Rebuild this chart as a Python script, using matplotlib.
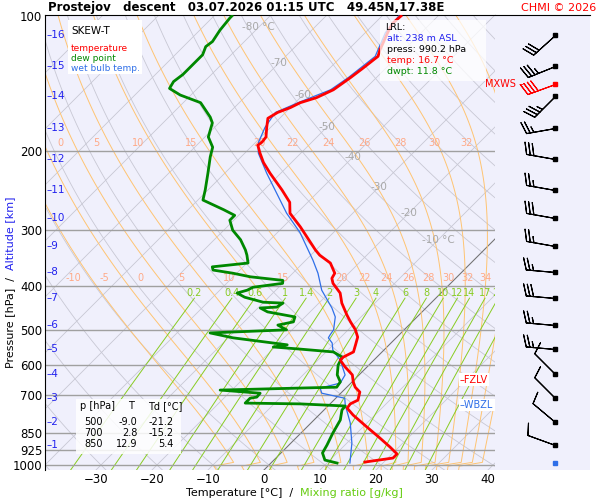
import numpy as np
import matplotlib
matplotlib.use('Agg')
import matplotlib.pyplot as plt
from matplotlib.transforms import blended_transform_factory

plt.rcParams['font.family'] = ['DejaVu Sans']

P_BOT = 1026.0
P_TOP = 99.5
SKEW = 34.82   # deg C of x shift per ln(p) unit (45 deg in pixels)

BG = '#f0f0fc'
RED = '#ff0000'
GREEN = '#008800'
BLUE = '#2f6fe8'

# sounding (p [hPa], value [deg C])
TEMP = [
    (985, 16.6), (965, 20.9), (945, 20.9), (912, 18.4), (871, 15.0), (823, 10.7),
    (774, 6.1), (747, 3.8), (731, 3.6), (717, 4.3), (688, 3.2), (671, 1.5),
    (653, 0.2), (630, -1.2), (605, -3.9), (584, -6.0), (575, -6.0), (560, -5.1),
    (540, -6.0), (519, -7.0), (500, -8.7), (480, -11.0), (464, -12.8), (436, -15.9),
    (414, -18.0), (394, -21.0), (384, -22.1), (374, -22.5), (355, -25.1), (341, -28.4),
    (332, -30.1), (295, -36.9), (275, -41.2), (260, -43.2), (244, -46.8), (224, -51.9),
    (212, -55.0), (202, -57.3), (194, -59.1), (191, -58.9), (186, -59.1), (177, -60.7),
    (169, -62.1), (164, -61.4), (160, -60.0), (156, -59.1), (152, -57.1), (146, -55.5),
    (137, -54.6), (131, -54.1), (123, -53.5), (119, -54.3), (109, -56.0), (104, -56.8),
    (100, -56.6),
]

DEWP = [
    (990, 11.8), (975, 9.1), (940, 7.4), (903, 6.8), (849, 5.7), (794, 4.7),
    (754, 3.2), (739, 3.1), (731, -5.3), (728, -15.3), (710, -15.3), (706, -14.3),
    (692, -14.4), (681, -22.1), (674, -8.2), (671, -1.8), (653, -2.1), (630, -3.9),
    (599, -5.5), (575, -6.2), (560, -8.7), (552, -15.1), (546, -20.3), (540, -18.2),
    (521, -29.1), (508, -34.1), (500, -21.0), (488, -23.4), (480, -21.2), (468, -21.8),
    (456, -27.6), (447, -29.6), (445, -26.8), (436, -26.4), (434, -30.1), (423, -34.3),
    (414, -36.4), (408, -35.1), (402, -34.6), (394, -30.0), (388, -30.5), (381, -36.9),
    (374, -40.7), (368, -44.8), (362, -45.5), (355, -39.8), (341, -41.4), (332, -42.6),
    (315, -45.3), (300, -48.4), (285, -50.7), (278, -50.7), (270, -53.7), (257, -59.1),
    (244, -60.5), (224, -63.0), (206, -65.5), (196, -66.8), (186, -69.4), (173, -71.2),
    (168, -72.6), (156, -76.9), (150, -81.9), (145, -85.0), (140, -85.5), (135, -85.1),
    (130, -85.1), (122, -85.1), (117, -86.0), (114, -85.7), (107.5, -86.4), (101, -86.8),
    (100, -86.8),
]

WETB = [
    (990, 14.1), (894, 10.9), (806, 7.0), (735, 2.9), (710, 1.6), (692, -3.4),
    (674, -4.6), (657, -1.9), (630, -2.5), (584, -6.0), (555, -9.1), (535, -10.5),
    (521, -12.1), (514, -12.3), (500, -12.6), (468, -14.6), (447, -16.8), (408, -21.8),
    (374, -25.5), (350, -28.7), (332, -31.4), (304, -35.9), (275, -41.8), (240, -48.9),
    (224, -52.5), (202, -57.6), (191, -59.5), (177, -61.0), (164, -61.8), (156, -59.5),
    (146, -56.0), (137, -55.0), (123, -54.0), (109, -56.4), (100, -57.0),
]

# altitude [km] -> pressure [hPa]; wind (dir [deg], speed [kt]) at each level
ALT_KM = {16: 110, 15: 129, 14: 151, 13: 178, 12: 208, 11: 244, 10: 282, 9: 325,
          8: 372, 7: 425, 6: 488, 5: 552, 4: 627, 3: 710, 2: 802, 1: 903}
WINDS = [
    (110, 228, 30), (129, 248, 35), (142, 250, 40), (151, 225, 35), (178, 260, 25),
    (208, 280, 30), (244, 280, 25), (282, 280, 30), (325, 280, 25), (372, 275, 25),
    (425, 275, 30), (488, 275, 25), (552, 275, 25), (627, 315, 10), (710, 315, 10),
    (802, 310, 10), (903, 290, 10), (990, 255, 2),
]
MXWS_P = 142
FZLV_P = 646
WBZL_P = 735

TABLE = [(500, -9.0, -21.2), (700, 2.8, -15.2), (850, 12.9, 5.4)]


def skew_x(t, p):
    return np.asarray(t) + SKEW * np.log(P_BOT / np.asarray(p))


def sat_vp(tc):
    return 6.112 * np.exp(17.67 * tc / (tc + 243.5))


def moist_adiabat(thw, pres):
    # integrate pseudo-adiabat from 1000 hPa up and down
    Rd, cp, Lv, eps = 287.04, 1005.7, 2.501e6, 0.622

    def dtdp(T, p):
        es = sat_vp(T - 273.15)
        rs = eps * es / (p - es)
        num = Rd * T + Lv * rs
        den = cp + Lv * Lv * rs * eps / (Rd * T * T)
        return num / (den * p)

    out = {}
    for direction in (pres[pres <= 1000][::-1], pres[pres >= 1000]):
        T = thw + 273.15
        pp = 1000.0
        for p in direction:
            steps = 4
            dp = (p - pp) / steps
            for _ in range(steps):
                k1 = dtdp(T, pp)
                k2 = dtdp(T + 0.5 * dp * k1, pp + 0.5 * dp)
                T = T + dp * k2
                pp += dp
            out[p] = T - 273.15
    return np.array([out[p] for p in pres])


fig = plt.figure(figsize=(6, 5), dpi=100)
ax = fig.add_axes([45 / 600, 30 / 500, 450 / 600, 455 / 500])
ax.set_facecolor(BG)
ax.set_yscale('log')
ax.set_ylim(P_BOT, P_TOP)
ax.set_xlim(-39.1, 41.25)

pres = np.geomspace(P_BOT, P_TOP, 120)

# isotherms
for t in range(-160, 60, 10):
    ax.plot(skew_x(np.full_like(pres, t), pres), pres, color='#c8c8d4', lw=0.6, zorder=1)
ax.plot(skew_x(np.zeros_like(pres), pres), pres, color='#707070', lw=0.7, zorder=2)

# dry adiabats
for th in range(-40, 200, 10):
    tk = (th + 273.15) * (pres / 1000.0) ** 0.2857 - 273.15
    ax.plot(skew_x(tk, pres), pres, color='#c8c8d4', lw=0.6, zorder=1)

# moist adiabats
MOIST = [-10, -5, 0, 5, 10, 15, 20, 22, 24, 26, 28, 30, 32, 34]
for thw in MOIST:
    tm = moist_adiabat(thw, pres)
    ax.plot(skew_x(tm, pres), pres, color='#ffc472', lw=0.7, zorder=2)
    for plab in (200, 400):
        if plab == 200 and thw < 0:
            continue
        tl = moist_adiabat(thw, np.array([plab, 1000.0]))[0]
        xl = skew_x(tl, plab)
        if -38 < xl < 40:
            ax.text(xl, plab * 0.985, str(thw), color='#ffaa88', fontsize=7,
                    ha='center', va='bottom', zorder=3)

# mixing ratio lines
MIXR = [0.2, 0.4, 0.6, 1, 1.4, 2, 3, 4, 6, 8, 10, 12, 14, 17, 20, 25]
pm = np.geomspace(P_BOT, 425, 40)
for w in MIXR:
    e = w * 1e-3 * pm / (0.622 + w * 1e-3)
    le = np.log(e / 6.112)
    td = 243.5 * le / (17.67 - le)
    ax.plot(skew_x(td, pm), pm, color='#88cc22', lw=0.7, zorder=2)
    ax.text(skew_x(td[-1], pm[-1]), 413, f'{w:g}', color='#88cc22', fontsize=7,
            ha='center', va='center', zorder=3)

# pressure grid
PLEV = [200, 300, 400, 500, 600, 700, 850, 925, 1000]
for p in PLEV:
    ax.axhline(p, color='#a0a0a0', lw=1.0, zorder=2)

# isotherm labels
ISO_LAB = [(-80, 106), (-70, 127), (-60, 150), (-50, 177), (-40, 206), (-30, 240), (-20, 275), (-10, 315)]
for t, p in ISO_LAB:
    lab = f'{t} °C' if t in (-80, -10) else str(t)
    ax.text(skew_x(t, p), p, lab, color='#a8a8a8', fontsize=7.5, ha='center', va='center', zorder=3)

# sounding
for data, col, lw in ((WETB, BLUE, 0.9), (DEWP, GREEN, 2.0), (TEMP, RED, 2.0)):
    arr = np.array(data)
    ax.plot(skew_x(arr[:, 1], arr[:, 0]), arr[:, 0], color=col, lw=lw, zorder=5)

# axes cosmetics
ax.set_yticks([100] + PLEV)
ax.set_yticklabels([str(p) for p in [100] + PLEV], fontsize=8.5)
ax.yaxis.set_minor_locator(plt.NullLocator())
ax.set_xticks(range(-30, 41, 10))
ax.tick_params(axis='x', length=0, labelsize=8.5, pad=2)
ax.tick_params(axis='y', length=0, pad=2)
for s in ('right', 'bottom'):
    ax.spines[s].set_visible(False)
ax.spines['left'].set_color('black')
ax.spines['top'].set_color('black')

# altitude marks
tr = blended_transform_factory(ax.transAxes, ax.transData)
for km, p in ALT_KM.items():
    ax.text(0.004, p, f'–{km}', transform=tr, color='#2222ee', fontsize=7.5,
            ha='left', va='center', zorder=9)

# legend box
ax.add_patch(plt.Rectangle((0.05, 0.87), 0.165, 0.12, transform=ax.transAxes,
                           facecolor='white', edgecolor='none', zorder=7))
ax.text(0.058, 0.975, 'SKEW-T', transform=ax.transAxes, fontsize=7.5, va='top', zorder=8)
ax.text(0.058, 0.937, 'temperature', transform=ax.transAxes, fontsize=6.5, color=RED, va='top', zorder=8)
ax.text(0.058, 0.915, 'dew point', transform=ax.transAxes, fontsize=6.5, color=GREEN, va='top', zorder=8)
ax.text(0.058, 0.893, 'wet bulb temp.', transform=ax.transAxes, fontsize=6.5, color=BLUE, va='top', zorder=8)

# LRL box
ax.add_patch(plt.Rectangle((0.745, 0.855), 0.235, 0.135, transform=ax.transAxes,
                           facecolor='white', edgecolor='none', alpha=0.75, zorder=7))
lrl = [('LRL:', 'black'), ('alt: 238 m ASL', '#2222ee'), ('press: 990.2 hPa', 'black'),
       ('temp: 16.7 °C', RED), ('dwpt: 11.8 °C', GREEN)]
for i, (txt, col) in enumerate(lrl):
    ax.text(0.755 + (0 if i == 0 else 0.006), 0.982 - i * 0.024, txt, transform=ax.transAxes,
            fontsize=6.8, color=col, va='top', zorder=8)

# table box
ax.add_patch(plt.Rectangle((0.068, 0.035), 0.235, 0.12, transform=ax.transAxes,
                           facecolor='white', edgecolor='none', alpha=0.85, zorder=7))
ax.text(0.078, 0.14, 'p [hPa]', transform=ax.transAxes, fontsize=7, va='center', zorder=8)
ax.text(0.185, 0.14, 'T', transform=ax.transAxes, fontsize=7, va='center', zorder=8)
ax.text(0.228, 0.14, 'Td [°C]', transform=ax.transAxes, fontsize=7, va='center', zorder=8)
for i, (p, t, td) in enumerate(TABLE):
    yy = 0.105 - i * 0.024
    ax.text(0.128, yy, str(p), transform=ax.transAxes, fontsize=7, ha='right', va='center', zorder=8)
    ax.text(0.205, yy, f'{t:.1f}', transform=ax.transAxes, fontsize=7, ha='right', va='center', zorder=8)
    ax.text(0.285, yy, f'{td:.1f}', transform=ax.transAxes, fontsize=7, ha='right', va='center', zorder=8)

# level markers
ax.text(0.922, FZLV_P, '–FZLV', transform=tr, color=RED, fontsize=7, va='center', zorder=8,
        bbox=dict(facecolor='white', edgecolor='none', pad=1))
ax.text(0.922, WBZL_P, '–WBZL', transform=tr, color=BLUE, fontsize=7, va='center', zorder=8,
        bbox=dict(facecolor='white', edgecolor='none', pad=1))

# wind barbs
bx = fig.add_axes([495 / 600, 30 / 500, 95 / 600, 455 / 500], sharey=ax)
bx.set_facecolor(BG)
bx.set_xlim(0, 1)
for s in ('left', 'right', 'bottom'):
    bx.spines[s].set_visible(False)
bx.spines['top'].set_color('black')
bx.tick_params(left=False, labelleft=False, bottom=False, labelbottom=False)
for p, d, spd in WINDS:
    u = -spd * np.sin(np.radians(d))
    v = -spd * np.cos(np.radians(d))
    col = RED if p == MXWS_P else (BLUE if p > 950 else 'black')
    bx.barbs([0.63], [p], [u], [v], length=6.5, color=col, linewidth=0.8,
             sizes=dict(emptybarb=0), zorder=4)
    bx.plot([0.63], [p], 's', ms=2.5, color=col, zorder=5)
bx.text(0.3, MXWS_P, 'MXWS –', color=RED, fontsize=7, ha='right', va='center', zorder=8)

# titles and axis labels
fig.text(48 / 600, 1 - 8 / 500, 'Prostejov   descent   03.07.2026 01:15 UTC   49.45N,17.38E',
         fontsize=8.5, fontweight='bold', va='center')
fig.text(596 / 600, 1 - 8 / 500, 'CHMI © 2026', fontsize=8, color=RED, ha='right', va='center')
fig.text(300 / 600, 1 - 493 / 500, 'Temperature [°C]  /  ', fontsize=8, ha='right', va='center')
fig.text(300 / 600, 1 - 493 / 500, 'Mixing ratio [g/kg]', fontsize=8, ha='left', va='center',
         color='#66cc11')
fig.text(10 / 600, 1 - 270 / 500, 'Pressure [hPa]  /  ', fontsize=8, rotation=90,
         ha='center', va='top')
fig.text(10 / 600, 1 - 270 / 500, 'Altitude [km]', fontsize=8, rotation=90, ha='center',
         va='bottom', color='#2222ee')

fig.savefig('out.png', dpi=100)
